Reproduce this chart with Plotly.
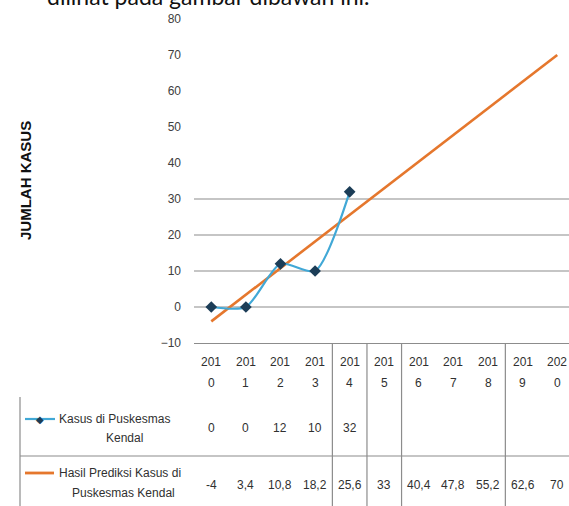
import plotly.graph_objects as go

# ---------------- data ----------------
years = ["2010", "2011", "2012", "2013", "2014", "2015", "2016", "2017", "2018", "2019", "2020"]
kasus = [0, 0, 12, 10, 32]
prediksi = [-4, 3.4, 10.8, 18.2, 25.6, 33, 40.4, 47.8, 55.2, 62.6, 70]
y_ticks = [-10, 0, 10, 20, 30, 40, 50, 60, 70, 80]
grid_values = [0, 10, 20, 30]
table_borders = [3.5, 4.5, 5.5, 8.5]
kasus_label = ["Kasus di Puskesmas", "Kendal"]
prediksi_label = ["Hasil Prediksi Kasus di", "Puskesmas Kendal"]
y_title = "JUMLAH KASUS"
top_text = "dilihat pada gambar dibawah ini."

# ---------------- geometry helpers ----------------
W, H = 569, 506
L, T, B = 194, 19, 343          # plot area pixel edges (left, top, bottom)
PW = W - L
PH = B - T


def px(x):
    return (x - L) / PW


def py(y):
    return (B - y) / PH


BLUE = "#41A8D6"
NAVY = "#1C3D57"
ORANGE = "#E5772D"
GRID = "#8C8C8C"
FONT = "Liberation Sans, Arial, sans-serif"
TXT = "#303030"

fig = go.Figure()

fig.add_trace(go.Scatter(
    x=years, y=prediksi, mode="lines", name=" ".join(prediksi_label),
    line=dict(color=ORANGE, width=2.6), showlegend=False,
))
fig.add_trace(go.Scatter(
    x=years[:len(kasus)], y=kasus, mode="lines+markers", name=" ".join(kasus_label),
    line=dict(color=BLUE, width=2.2, shape="spline", smoothing=0.7),
    marker=dict(symbol="diamond", size=9, color=NAVY),
    showlegend=False,
))

shapes = []
for g in grid_values:
    shapes.append(dict(type="line", xref="paper", yref="y", x0=0, x1=1, y0=g, y1=g,
                       line=dict(color=GRID, width=1.2), layer="below"))
# data table borders
for b in table_borders:
    shapes.append(dict(type="line", xref="x", yref="paper", x0=b, x1=b, y0=0, y1=py(H + 2),
                       line=dict(color=GRID, width=1.2)))
shapes.append(dict(type="line", xref="paper", yref="paper", x0=px(20), x1=1,
                   y0=py(456), y1=py(456), line=dict(color=GRID, width=1.2)))
shapes.append(dict(type="line", xref="paper", yref="paper", x0=px(20), x1=px(20),
                   y0=py(397), y1=py(H + 2), line=dict(color=GRID, width=1.2)))
# legend keys in the data table
shapes.append(dict(type="line", xref="paper", yref="paper", x0=px(25), x1=px(55),
                   y0=py(419), y1=py(419), line=dict(color=BLUE, width=2.2)))
shapes.append(dict(type="line", xref="paper", yref="paper", x0=px(25), x1=px(54),
                   y0=py(473), y1=py(473), line=dict(color=ORANGE, width=2.8)))

ann = []


def text_ann(text, x, y, xref="paper", xanchor="center", size=12, color=TXT, family=FONT, **kw):
    d = dict(text=text, xref=xref, yref="paper", x=x, y=y, xanchor=xanchor,
             yanchor=kw.pop("yanchor", "middle"), showarrow=False,
             font=dict(family=family, size=size, color=color))
    d.update(kw)
    return d


# top (cut-off) document text
ann.append(text_ann(top_text, px(45), py(12), xanchor="left", yanchor="bottom",
                    size=23, color="#111", family="Lato, Open Sans, sans-serif"))
# y axis title
ann.append(text_ann("<b>" + y_title + "</b>", px(25), py(181), size=15, color="#111",
                    textangle=-90))
# x category labels (wrapped like the original) and data table values
for i, yr in enumerate(years):
    ann.append(text_ann(yr[:3], i, py(362), xref="x"))
    ann.append(text_ann(yr[3:], i, py(383), xref="x"))


def fmt(v):
    return ("%g" % v).replace(".", ",")


for i, v in enumerate(kasus):
    ann.append(text_ann(fmt(v), i, py(428), xref="x"))
for i, v in enumerate(prediksi):
    ann.append(text_ann(fmt(v), i, py(485), xref="x"))

# legend labels in table
ann.append(text_ann("\u25C6", px(40), py(419), size=10, color=NAVY, family="DejaVu Sans"))
ann.append(text_ann(kasus_label[0], px(57), py(419), xanchor="left"))
ann.append(text_ann(kasus_label[1], px(124), py(438)))
ann.append(text_ann(prediksi_label[0], px(57), py(473), xanchor="left"))
ann.append(text_ann(prediksi_label[1], px(123), py(493)))

fig.update_layout(
    width=W, height=H,
    margin=dict(l=L, r=0, t=T, b=H - B, pad=0, autoexpand=False),
    paper_bgcolor="white", plot_bgcolor="white",
    shapes=shapes, annotations=ann,
    xaxis=dict(type="category", categoryorder="array", categoryarray=years,
               range=[-0.5, 10.34], showgrid=False, showticklabels=False,
               showline=True, linecolor=GRID, linewidth=1.2, zeroline=False, ticks="",
               fixedrange=True),
    yaxis=dict(range=[-10, 80], tickvals=y_ticks, showgrid=False, zeroline=False,
               showline=False, ticks="", ticklabelstandoff=12,
               tickfont=dict(family=FONT, size=12, color="#404040"), fixedrange=True),
)

fig.write_html("out.html", config={"displayModeBar": False},
               post_script="document.body.style.margin='0';document.body.style.overflow='hidden';")
